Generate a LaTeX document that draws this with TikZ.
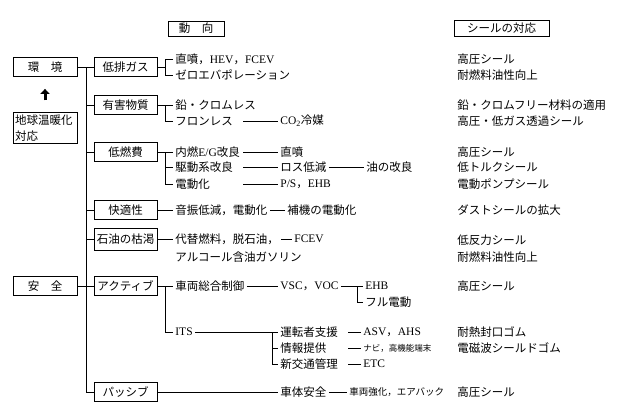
\documentclass[tikz,border=0pt]{standalone}
\usepackage{fontspec}
\setmainfont{Noto Sans CJK JP}
\newfontfamily\lat{Liberation Serif}
\usetikzlibrary{arrows.meta}
\begin{document}
\begin{tikzpicture}[x=1pt, y=-1pt, font=\fontsize{11.5}{14}\selectfont,
  box/.style={draw, minimum width=63pt, minimum height=19pt, inner sep=1pt},
  txt/.style={anchor=west, inner sep=2pt},
  every path/.style={line width=0.8pt}]

\useasboundingbox (0,0) rectangle (620,416);

% column heads
\node[box, minimum width=56pt, minimum height=15pt] at (196,28.5) (headmove) {動　向};
\node[box, minimum width=95pt, minimum height=16pt] at (501.5,28) (headseal) {シールの対応};

% left boxes
\node[box, minimum width=64pt] at (45,67) (env) {環　境};
\node[box, text width=60pt, align=left, inner sep=2pt, minimum height=30pt,
  font=\fontsize{11.5}{16}\selectfont] at (45,128) (warm) {地球温暖化\\対応};
\node[box, minimum width=64pt] at (45,286) (safety) {安　全};
\draw[-{Triangle[length=5pt,width=9pt]}, line width=3pt, shorten <=12pt, shorten >=12pt] (warm) -- (env);

% categories
\node[box] at (125.5,67) (gas) {低排ガス};
\node[box] at (125.5,105) (harm) {有害物質};
\node[box] at (125.5,152) (fuel) {低燃費};
\node[box] at (125.5,210) (comfort) {快適性};
\node[box, minimum height=22pt] at (125.5,239) (oil) {石油の枯渇};
\node[box] at (125.5,286) (active) {アクティブ};
\node[box] at (125.5,392) (passive) {パッシブ};

\coordinate (spine) at (86,0);
\coordinate (br) at (165,0);
\coordinate (la) at (243,0);
\coordinate (iv) at (272,0);
\coordinate (ld) at (348,0);
\coordinate (bv) at (357,0);

\draw (env.east) -- (env.east -| spine) -- (passive.west -| spine);
\draw (safety.east) -- (safety.east -| spine);
\foreach \n in {gas,harm,fuel,comfort,oil,active,passive}
  \draw (\n.west -| spine) -- (\n.west);

% trends
\node[txt] at (173,59) (gasA) {直噴，{\lat HEV}，{\lat FCEV}};
\node[txt] at (173,75) (gasB) {ゼロエバポレーション};
\node[txt] at (173,105) (harmA) {鉛・クロムレス};
\node[txt] at (173,121) (harmB) {フロンレス};
\node[txt] at (278,121) (co2) {{\lat CO\textsubscript{2}}冷媒};
\node[txt] at (173,152) (fuelA) {内燃{\lat E/G}改良};
\node[txt] at (173,167) (fuelB) {駆動系改良};
\node[txt] at (173,184) (fuelC) {電動化};
\node[txt] at (278,152) (inj) {直噴};
\node[txt] at (278,167) (loss) {ロス低減};
\node[txt] at (364,167) (oilimp) {油の改良};
\node[txt] at (278,184) (ps) {{\lat P/S}，{\lat EHB}};
\node[txt] at (173,210) (comfA) {音振低減，電動化};
\node[txt] at (285,210) (aux) {補機の電動化};
\node[txt] at (173,239) (oilA) {代替燃料，脱石油，};
\node[txt] at (292,239) (fcev) {\lat FCEV};
\node[txt] at (173,257) (alc) {アルコール含油ガソリン};
\node[txt] at (173,286) (ctrl) {車両総合制御};
\node[txt] at (278,286) (vsc) {{\lat VSC}，{\lat VOC}};
\node[txt] at (363,286) (ehb) {\lat EHB};
\node[txt] at (363,302) (full) {フル電動};
\node[txt] at (173,332) (its) {\lat ITS};
\node[txt] at (278,332) (drv) {運転者支援};
\node[txt] at (278,348) (info) {情報提供};
\node[txt] at (278,364) (traf) {新交通管理};
\node[txt] at (361,332) (asv) {{\lat ASV}，{\lat AHS}};
\node[txt, font=\fontsize{8.5}{10}\selectfont] at (361,348) (navi) {ナビ，高機能端末};
\node[txt] at (361,364) (etc) {\lat ETC};
\node[txt] at (278,392) (body) {車体安全};
\node[txt, font=\fontsize{9.5}{11}\selectfont] at (347,392) (bodyB) {車両強化，エアバック};

\draw (gas.east) -- (gas.east -| br);
\draw (gasA.west) -- (gasA.west -| br) |- (gasB.west);
\draw (harm.east) -- (harmA.west);
\draw (harmA.west -| br) |- (harmB.west);
\draw (fuel.east) -- (fuelA.west);
\draw (fuelA.west -| br) |- (fuelC.west);
\draw (fuelB.west -| br) -- (fuelB.west);
\draw (comfort.east) -- (comfA.west);
\draw (oil.east) -- (oilA.west);
\draw (active.east) -- (ctrl.west);
\draw (ctrl.west -| br) |- (its.west);
\draw (passive.east) -- (body.west);

\foreach \b in {co2,inj,loss,ps}
  \draw (\b.west -| la) -- (\b.west);
\draw (loss.east) -- (oilimp.west);
\draw (comfA.east) -- (aux.west);
\draw (oilA.east) -- (fcev.west);
\draw (ctrl.east) -- (vsc.west);
\draw (vsc.east) -- (ehb.west);
\draw (vsc.east -| bv) |- (full.west);
\draw (its.east) -- (drv.west);
\draw (drv.west -| iv) |- (traf.west);
\draw (info.west -| iv) -- (info.west);
\foreach \b in {asv,navi,etc}
  \draw (\b.west -| ld) -- (\b.west);
\draw (body.east) -- (bodyB.west);

% seal measures
\foreach \y/\t [count=\i] in {59/高圧シール, 75/耐燃料油性向上, 105/鉛・クロムフリー材料の適用,
  121/高圧・低ガス透過シール, 152/高圧シール, 167/低トルクシール, 184/電動ポンプシール,
  210/ダストシールの拡大, 240/低反力シール, 257/耐燃料油性向上, 286/高圧シール,
  332/耐熱封口ゴム, 348/電磁波シールドゴム, 392/高圧シール}
  \node[txt] at (455,\y) (s\i) {\t};
\end{tikzpicture}
\end{document}
